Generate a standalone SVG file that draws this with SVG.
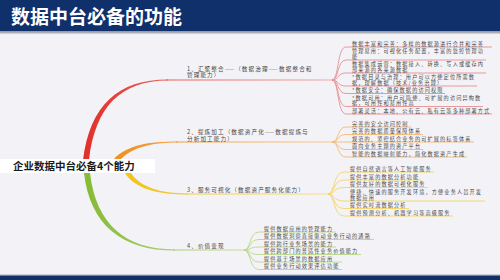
<svg xmlns="http://www.w3.org/2000/svg" width="500" height="280" viewBox="0 0 500 280">
<defs>
<style>
text{font-family:"Noto Sans CJK SC","Noto Sans",sans-serif;}
.title{font-size:19px;font-weight:bold;fill:#ffffff;}
.root{font-size:10.5px;font-weight:bold;fill:#1a1a1a;}
.lbl{font-size:5.6px;letter-spacing:1.1px;fill:#444444;}
.leaf{font-size:5.15px;letter-spacing:1.15px;fill:#474747;}
.fr{fill:none;stroke:#e98f8f;stroke-width:0.9;}
.fo{fill:none;stroke:#f5b872;stroke-width:0.9;}
.fy{fill:none;stroke:#f5d463;stroke-width:0.9;}
.fg{fill:none;stroke:#b9d886;stroke-width:0.9;}
</style>
<linearGradient id="gr" gradientUnits="userSpaceOnUse" x1="85" y1="0" x2="332" y2="0"><stop offset="0" stop-color="#e3302a"/><stop offset="0.35" stop-color="#e9615b"/><stop offset="1" stop-color="#f0aaaa"/></linearGradient>
<linearGradient id="go" gradientUnits="userSpaceOnUse" x1="115" y1="0" x2="332" y2="0"><stop offset="0" stop-color="#f2901e"/><stop offset="1" stop-color="#f7c995"/></linearGradient>
<linearGradient id="gy" gradientUnits="userSpaceOnUse" x1="125" y1="0" x2="328" y2="0"><stop offset="0" stop-color="#f5c21a"/><stop offset="1" stop-color="#f8de88"/></linearGradient>
<linearGradient id="gg" gradientUnits="userSpaceOnUse" x1="85" y1="0" x2="244" y2="0"><stop offset="0" stop-color="#86bb34"/><stop offset="1" stop-color="#c6de9e"/></linearGradient>
</defs>
<rect x="0" y="0" width="500" height="280" fill="#f3f3f7"/>
<g id="title">
<rect x="0" y="0" width="500" height="31.5" fill="#10306c"/>
<rect x="0" y="31.5" width="500" height="2" fill="#a9adb6"/>
<text class="title" x="11" y="24">数据中台必备的功能</text>
</g>
<rect x="0" y="274.5" width="500" height="1" fill="#a9adb6"/>
<rect x="0" y="275.5" width="500" height="4.5" fill="#10306c"/>

<g id="connectors">
<path d="M83,160 C90,105 118,79.4 168,79.4 L168,80.6 C121,80.6 95,107 89,160 Z" fill="url(#gr)"/>
<line x1="166" y1="80" x2="332" y2="80" stroke="url(#gr)" stroke-width="1.1"/>
<path d="M114,158.5 C128,145 148,141.4 178,141.4 L178,142.6 C150,142.6 132,148 120,160 Z" fill="url(#go)"/>
<line x1="176" y1="142" x2="332" y2="142" stroke="url(#go)" stroke-width="1.1"/>
<path d="M125,173 C135,189 158,194.6 188,194.6 L188,193.4 C160,193.4 140,187 131,173 Z" fill="url(#gy)"/>
<line x1="186" y1="194" x2="328" y2="194" stroke="url(#gy)" stroke-width="1.1"/>
<path d="M84,173 C90,225 122,250.6 175,250.6 L175,249.4 C125,249.4 96,224 90,173 Z" fill="url(#gg)"/>
<line x1="173" y1="250" x2="244" y2="250" stroke="url(#gg)" stroke-width="1.1"/>

<path class="fr" d="M332,80 C339,80 337,47 346,47 H492"/>
<path class="fr" d="M332,80 C339,80 337,60 346,60 H486"/>
<path class="fr" d="M332,80 C339,80 337,73 346,73 H486"/>
<path class="fr" d="M332,80 C339,80 337,86 346,86 H477"/>
<path class="fr" d="M332,80 C339,80 337,93.5 346,93.5 H445"/>
<path class="fr" d="M332,80 C339,80 337,106.5 346,106.5 H483"/>
<path class="fr" d="M332,80 C339,80 337,114 346,114 H492"/>

<path class="fo" d="M332,142 C339,142 337,127 346,127 H411"/>
<path class="fo" d="M332,142 C339,142 337,134.5 346,134.5 H423"/>
<path class="fo" d="M332,142 C339,142 337,142 346,142 H474"/>
<path class="fo" d="M332,142 C339,142 337,149.5 346,149.5 H423"/>
<path class="fo" d="M332,142 C339,142 337,157 346,157 H467"/>

<path class="fy" d="M328,194 C335,194 333,172 344,172 H434"/>
<path class="fy" d="M328,194 C335,194 333,180 344,180 H421"/>
<path class="fy" d="M328,194 C335,194 333,187.5 344,187.5 H428"/>
<path class="fy" d="M328,194 C335,194 333,201 344,201 H485"/>
<path class="fy" d="M328,194 C335,194 333,208.5 344,208.5 H409"/>
<path class="fy" d="M328,194 C335,194 333,216 344,216 H453"/>

<path class="fg" d="M244,250 C251,250 249,232 259,232 H336"/>
<path class="fg" d="M244,250 C251,250 249,239.5 259,239.5 H374"/>
<path class="fg" d="M244,250 C251,250 249,247 259,247 H336"/>
<path class="fg" d="M244,250 C251,250 249,254.5 259,254.5 H361"/>
<path class="fg" d="M244,250 C251,250 249,262 259,262 H342"/>
<path class="fg" d="M244,250 C251,250 249,269.5 259,269.5 H342"/>
</g>

<g id="root">
<rect x="0" y="159" width="155" height="14" fill="#ffffff"/>
<text class="root" x="13" y="169.8">企业数据中台必备4个能力</text>
</g>

<g id="b1"><text class="lbl" x="187" y="70.6">1、汇聚整合——（数据治理——数据整合和<tspan x="187" y="77.2">管理能力）</tspan></text></g>
<g id="b2"><text class="lbl" x="187" y="134">2、提炼加工（数据资产化——数据提炼与<tspan x="187" y="140.6">分析加工能力）</tspan></text></g>
<g id="b3"><text class="lbl" x="187" y="191.8">3、服务可视化（数据资产服务化能力）</text></g>
<g id="b4"><text class="lbl" x="187" y="248">4、价值变现</text></g>

<g id="l1_1"><text class="leaf" x="352" y="45.5">数据丰富和完善：多样的数据源进行合并和完善</text></g>
<g id="l1_2"><text class="leaf" x="352" y="53">管理易用：可视化任务配置，丰富的监控管理功<tspan x="352" y="58.5">能</tspan></text></g>
<g id="l1_3"><text class="leaf" x="352" y="66">数据集成运营：数据接入、转换、写入或缓存内<tspan x="352" y="71.5">部来源的各来源数据</tspan></text></g>
<g id="l1_4"><text class="leaf" x="352" y="79">*数据目录与治理：用户可以方便定位所需数<tspan x="352" y="84.5">据，理解数据（技术/业务治理）</tspan></text></g>
<g id="l1_5"><text class="leaf" x="352" y="92">*数据安全：确保数据的访问权限</text></g>
<g id="l1_6"><text class="leaf" x="352" y="99.5">*数据可用：用户可简便、可扩展的访问异构数<tspan x="352" y="105">据，可用性和易用性高</tspan></text></g>
<g id="l1_7"><text class="leaf" x="352" y="112.5">部署灵活：本地、公有云、私有云等多种部署方式</text></g>

<g id="l2_1"><text class="leaf" x="352" y="125.5">完善的安全访问控制</text></g>
<g id="l2_2"><text class="leaf" x="352" y="133">完善的数据质量保障体系</text></g>
<g id="l2_3"><text class="leaf" x="352" y="140.5">规范的、紧密结合业务的可扩展的标签体系</text></g>
<g id="l2_4"><text class="leaf" x="352" y="148">面向业务主题的资产平台</text></g>
<g id="l2_5"><text class="leaf" x="352" y="155.5">智能的数据映射能力，简化数据资产生成</text></g>

<g id="l3_1"><text class="leaf" x="350" y="170.5">提供自然语言等人工智能服务</text></g>
<g id="l3_2"><text class="leaf" x="350" y="178.5">提供丰富的数据分析功能</text></g>
<g id="l3_3"><text class="leaf" x="350" y="186">提供友好的数据可视化服务</text></g>
<g id="l3_4"><text class="leaf" x="350" y="194">便捷、快速的服务开发环境，方便业务人员开发<tspan x="350" y="199.5">数据应用</tspan></text></g>
<g id="l3_5"><text class="leaf" x="350" y="207">提供实时流数据分析</text></g>
<g id="l3_6"><text class="leaf" x="350" y="214.5">提供预测分析、机器学习等高级服务</text></g>

<g id="l4_1"><text class="leaf" x="264" y="230.5">提供数据应用的管理能力</text></g>
<g id="l4_2"><text class="leaf" x="264" y="238">提供数据洞察直接驱动业务行动的通路</text></g>
<g id="l4_3"><text class="leaf" x="264" y="245.5">提供跨行业务场景的能力</text></g>
<g id="l4_4"><text class="leaf" x="264" y="253">提供跨部门的普适性业务价值能力</text></g>
<g id="l4_5"><text class="leaf" x="264" y="260.5">提供基于场景的数据应用</text></g>
<g id="l4_6"><text class="leaf" x="264" y="268">提供业务行动效果评估功能</text></g>
</svg>
